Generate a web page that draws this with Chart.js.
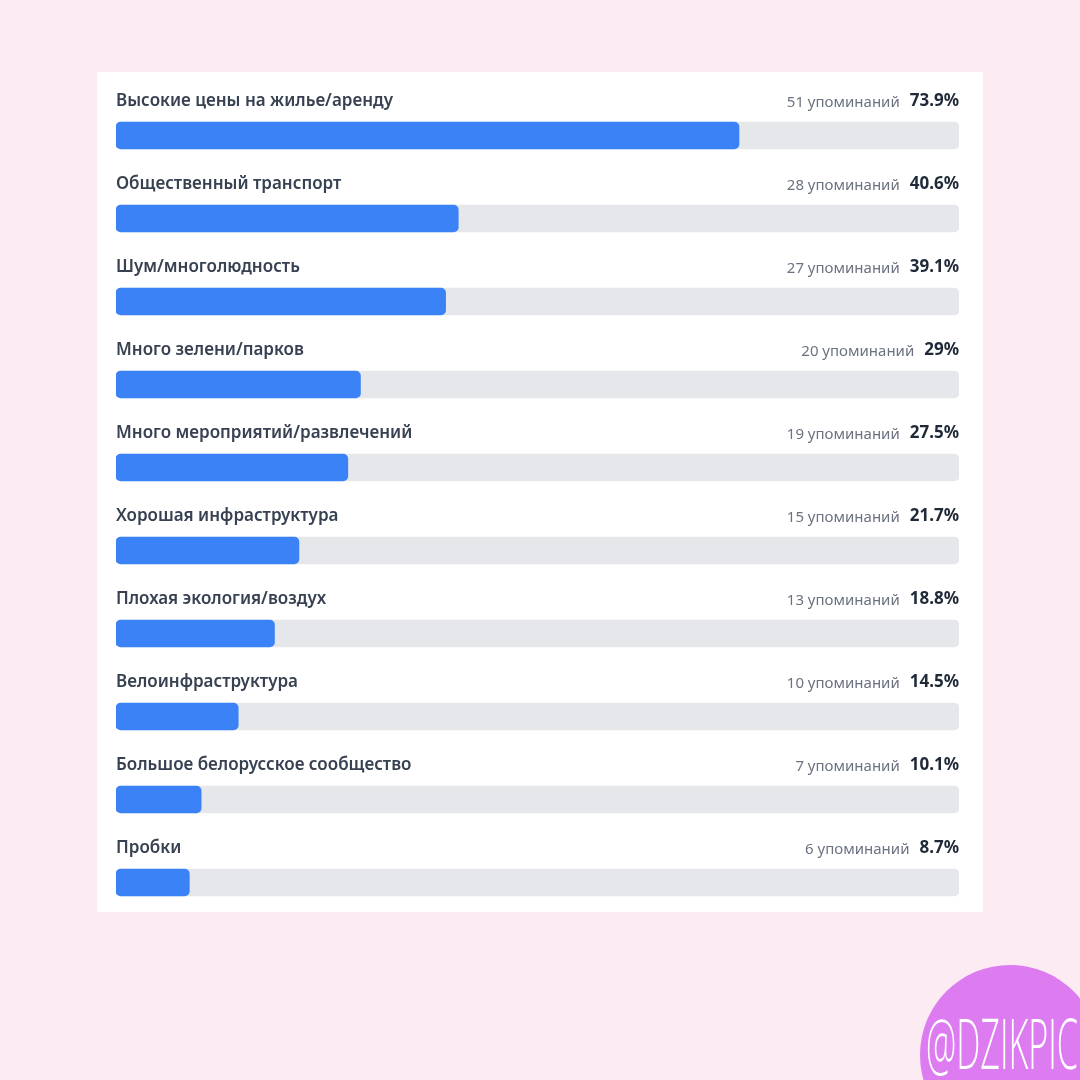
<!DOCTYPE html>
<html>
<head>
<meta charset="utf-8">
<script src="https://cdn.jsdelivr.net/npm/chart.js@4"></script>
<style>
  html, body { margin: 0; padding: 0; }
  body { width: 1080px; height: 1080px; background: #fdebf3; position: relative; overflow: hidden; }
  .card { position: absolute; left: 97px; top: 72px; width: 886px; height: 840px; background: #fff; }
  .badge { position: absolute; left: 920px; top: 965px; width: 180px; height: 180px; border-radius: 50%; background: #dd7bf0; }
  .badge span { position: absolute; left: 6px; top: 42px; display: inline-block; color: #fff; font-family: "Open Sans", sans-serif; font-weight: 300; font-size: 70px; line-height: 70px; text-transform: uppercase; transform-origin: left top; white-space: nowrap; }
  #wrap { position: absolute; left: 0; top: 0; width: 1080px; height: 1080px; }
</style>
</head>
<body>
<div class="card"></div>
<div class="badge"><span id="tag">@DzikPic</span></div>
<div id="wrap"><canvas id="chart"></canvas></div>
<script>
const categories = [
  'Высокие цены на жилье/аренду',
  'Общественный транспорт',
  'Шум/многолюдность',
  'Много зелени/парков',
  'Много мероприятий/развлечений',
  'Хорошая инфраструктура',
  'Плохая экология/воздух',
  'Велоинфраструктура',
  'Большое белорусское сообщество',
  'Пробки'
];
const mentions = [51, 28, 27, 20, 19, 15, 13, 10, 7, 6];
const percents = [73.9, 40.6, 39.1, 29, 27.5, 21.7, 18.8, 14.5, 10.1, 8.7];
const track = categories.map(() => 100);

// squeeze the watermark into its narrow width
const tag = document.getElementById('tag');
tag.style.transform = 'scaleX(' + (152 / tag.offsetWidth) + ')';

// labels drawn above each bar, using the bar positions from the chart
const rowLabels = {
  id: 'rowLabels',
  afterDatasetsDraw(chart) {
    const ctx = chart.ctx;
    const meta = chart.getDatasetMeta(0);
    const area = chart.chartArea;
    ctx.save();
    ctx.textBaseline = 'middle';
    meta.data.forEach((bar, i) => {
      const y = bar.y - 34;
      ctx.textAlign = 'left';
      ctx.fillStyle = '#374151';
      ctx.font = '600 17px "Noto Sans", sans-serif';
      ctx.fillText(categories[i], area.left, y);

      ctx.textAlign = 'right';
      ctx.fillStyle = '#1f2937';
      ctx.font = '700 17px "Noto Sans", sans-serif';
      const pct = percents[i] + '%';
      ctx.fillText(pct, area.right, y);
      const w = ctx.measureText(pct).width;
      ctx.fillStyle = '#6b7280';
      ctx.font = '400 15px "Noto Sans", sans-serif';
      ctx.fillText(mentions[i] + ' упоминаний', area.right - w - 10, y + 1);
    });
    ctx.restore();
  }
};

new Chart(document.getElementById('chart'), {
  type: 'bar',
  data: {
    labels: categories,
    datasets: [
      {
        label: 'Доля',
        data: percents,
        backgroundColor: '#3b82f6',
        borderRadius: 5,
        borderSkipped: false,
        barThickness: 27,
        grouped: false,
        order: 0
      },
      {
        label: 'Фон',
        data: track,
        backgroundColor: '#e5e7eb',
        borderRadius: 5,
        borderSkipped: false,
        barThickness: 27,
        grouped: false,
        order: 1
      }
    ]
  },
  options: {
    indexAxis: 'y',
    responsive: true,
    maintainAspectRatio: false,
    animation: false,
    layout: { padding: { left: 116, right: 121, top: 94, bottom: 156 } },
    scales: {
      x: { display: false, min: 0, max: 100 },
      y: { display: false }
    },
    plugins: {
      legend: { display: false },
      tooltip: { enabled: false }
    }
  },
  plugins: [rowLabels]
});
</script>
</body>
</html>
